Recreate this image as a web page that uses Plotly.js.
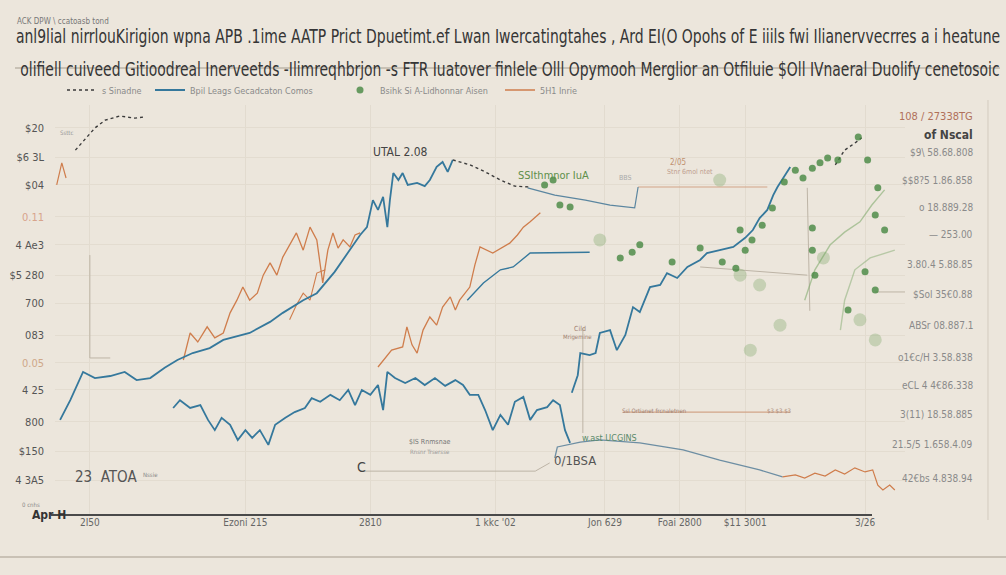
<!DOCTYPE html>
<html>
<head>
<meta charset="utf-8">
<script src="https://cdn.plot.ly/plotly-3.0.1.min.js"></script>
<style>
html,body{margin:0;padding:0;background:#ece6dc;}
#chart{width:1006px;height:575px;}
</style>
</head>
<body>
<div id="chart"></div>
<script>
// ---------- data ----------
const blueMainX = [0.6,1.8,3.3,4.7,6.5,8.2,9.6,11.2,12.9,14.4,16.2,18.2,19.8,22.9,25.3,26.8,29.2,30.8,32.9,34.7,35.9,36.7,37.4,38.0,38.6,39.1,39.4,39.8,40.4,40.9,41.5,42.6,43.5,44.1,44.9,45.6,46.2,46.8];
const blueMainY = [23.2,28.0,34.9,33.4,33.9,34.9,32.9,33.4,35.9,37.8,39.5,40.7,42.7,44.4,47.1,49.3,52.4,54.1,59.3,64.6,68.3,70.2,76.8,74.4,77.6,70.2,76.8,83.4,81.7,83.4,80.5,81.0,80.2,81.7,84.9,86.1,83.7,86.6];

const blueLowX = [13.9,14.7,15.9,17.1,18.0,18.8,19.6,20.6,21.5,22.4,23.2,24.1,25.1,25.9,27.1,28.2,29.4,30.2,31.2,32.4,33.5,34.5,35.3,36.1,37.1,38.0,38.6,39.1,40.0,41.2,42.4,43.5,44.7,45.9,47.1,48.0,48.8,49.8,50.6,51.5,52.4,53.3,54.1,55.1,55.9,56.7,57.9,58.6,59.4,60.0,60.6];
const blueLowY = [26.1,28.0,26.1,26.8,23.2,20.7,23.7,22.0,18.3,20.7,18.8,20.7,17.1,22.0,23.7,25.1,26.1,28.5,27.6,29.3,28.0,30.5,26.8,30.5,29.3,31.7,25.6,34.9,33.4,32.2,33.4,31.7,33.4,31.5,32.9,31.7,29.3,29.3,25.6,20.7,24.4,22.0,27.6,28.8,23.2,25.6,26.3,28.0,26.8,20.7,17.6];

const blueRightX = [60.8,61.5,61.8,62.9,63.6,64.1,65.3,66.1,67.1,68.0,68.8,70.0,71.2,72.0,73.2,74.4,75.9,76.7,78.2,79.8,81.2,82.1,82.9,83.8,84.5,85.0,85.9,86.5];
const blueRightY = [29.8,34.1,39.5,39.0,39.5,44.4,45.1,40.2,43.9,50.7,49.5,55.6,56.1,59.0,57.8,60.5,62.2,63.9,64.6,65.4,67.6,69.5,72.4,74.4,78.0,80.0,82.9,84.9];

const blueSmoothX = [48.5,50.4,52.4,53.9,55.9,62.9];
const blueSmoothY = [52.4,56.6,59.8,60.5,63.9,64.1];

const blueUpperX = [55.6,58.8,62.4,65.3,68.2,68.6];
const blueUpperY = [79.8,78.0,76.8,75.6,74.9,80.0];

const blueTailX = [58.8,59.1,61.8,64.1,68.8,73.9,78.2,82.9,85.6];
const blueTailY = [13.9,16.6,17.8,18.3,17.6,15.9,13.4,11.0,9.3];

const orangeMainX = [15.1,15.9,16.8,17.9,18.8,19.8,20.6,21.4,22.1,22.9,23.8,24.5,25.3,26.1,26.8,27.6,28.4,29.2,30.0,30.8,31.2,31.5,32.1,32.7,33.3,33.9,34.7,35.3,35.9];
const orangeMainY = [37.8,44.4,42.2,45.9,43.2,44.4,49.3,52.4,55.6,52.4,54.1,58.5,61.5,58.5,62.9,65.9,68.8,64.6,70.2,67.1,61.0,56.6,64.6,68.8,65.1,67.1,65.4,68.3,68.8];

const orangeLowX = [27.6,28.4,29.2,30.0,30.8,31.8];
const orangeLowY = [47.6,51.2,54.1,52.4,59.0,59.8];

const orangeSecondX = [38.0,39.6,40.9,41.4,42.0,42.6,43.3,44.1,44.9,45.6,46.5,47.1,47.6,48.8,49.4,50.0,51.5,52.5,53.5,54.4,55.1,55.9,57.1];
const orangeSecondY = [36.1,40.2,41.0,45.9,41.5,39.5,45.1,48.3,46.3,50.7,53.2,50.0,52.4,55.6,61.0,65.4,63.9,65.1,66.3,68.3,70.2,71.5,73.7];

const orangeTopX = [0.2,0.6,0.8,1.3];
const orangeTopY = [80.5,84.1,85.9,82.2];

const orangeTailX = [85.6,87.1,88.2,89.4,90.6,91.8,92.9,94.1,95.3,96.2,96.8,97.4,98.2,98.8];
const orangeTailY = [9.3,9.8,9.0,10.2,9.5,11.0,10.0,11.5,10.5,11.0,7.3,6.1,7.3,6.1];

const dashTopX = [2.4,3.5,4.7,5.9,7.6,9.4,10.6];
const dashTopY = [89.0,91.5,94.4,96.3,97.3,96.8,97.1];
const dashMidX = [46.8,48.8,50.6,52.4,54.1,55.9];
const dashMidY = [86.6,85.4,83.7,81.7,80.2,80.0];
const dashRightX = [91.8,92.9,94.1,94.9];
const dashRightY = [85.4,89.0,90.7,92.0];

const greenDotsX = [57.6,58.6,59.4,60.6,66.5,67.9,68.8,72.6,75.9,78.5,80.1,81.2,82.0,83.2,84.4,85.8,87.1,88.0,89.1,90.0,90.9,92.1,94.5,95.6,96.8,96.5,97.6,95.3,96.5,89.1,89.4,93.3,80.6,89.1];
const greenDotsY = [80.5,81.7,75.6,75.1,62.7,64.1,65.9,61.7,65.1,61.7,60.2,64.6,67.1,70.7,74.9,81.2,84.1,82.2,84.6,85.9,87.1,86.6,92.2,86.6,79.8,73.2,69.5,59.3,54.9,64.6,58.5,50.0,69.5,70.0];
const greenFadeX = [64.1,80.6,82.9,90.4,96.5,94.7,78.2,85.3,81.8];
const greenFadeY = [67.1,58.5,56.1,62.7,42.7,47.6,81.7,46.3,40.2];
const greenCurveAX = [88.2,89.4,91.2,92.9,94.7,96.1,97.6];
const greenCurveAY = [52.4,59.8,65.9,69.0,71.5,75.6,79.3];
const greenCurveBX = [92.4,92.9,94.1,95.9,98.8];
const greenCurveBY = [45.1,52.4,59.8,62.7,64.6];

const refX = [4.1,4.1,6.5,null,62.1,62.1,null,88.5,88.8,null,75.9,88.5,null,96.5,100.4,null,36.2,56.5,58.2];
const refY = [63.4,38.3,38.3,null,45.6,20.0,null,79.8,49.8,null,60.5,58.5,null,54.4,54.4,null,10.7,10.7,12.7];
const orangeRefX = [68.6,83.8,null,66.8,86.5];
const orangeRefY = [80.0,80.0,null,25.1,25.1];

const leftTickVals = [94.4,87.3,80.5,72.7,65.9,58.5,51.7,43.9,37.1,30.5,22.7,15.6,8.5];
const leftTickText = ["$20","$6 3L","$04","<span style='color:#d8a48c'>0.11</span>","4 Ae3","$5 280","700","083","<span style='color:#cfa88a'>0.05</span>","4 25","800","$150","4 3A5"];

const bottomTickVals = [4.1,22.4,37.1,51.8,64.7,73.5,81.2,95.3];
const bottomTickText = ["2I50","Ezoni 215","2810","1 kkc '02","Jon 629","Foai 2800","$11 3001","3/26"];

const rightLabelY = [97.1,92.7,88.3,81.7,75.1,68.3,61.0,53.7,46.3,38.5,31.7,24.4,17.1,9.0,-1.7];
const rightLabelText = ["108 / 27338TG","of Nscal","$9\\ 58.68.808","$$8?5 1.86.858","o 18.889.28","— 253.00","3.80.4 5.88.85","$Sol 35€0.88","ABSr 08.887.1","o1€c/H 3.58.838","eCL 4 4€86.338","3(11) 18.58.885","21.5/5 1.658.4.09","42€bs 4.838.94","SSNo $0.8/8"];

const legendNames = ["s Sinadne","Bpil Leags Gecadcaton Comos","Bsihk Si A-Lidhonnar Aisen","5H1 Inrie"];

const titleLine1 = "anl9lial nirrlouKirigion wpna APB .1ime AATP Prict Dpuetimt.ef Lwan Iwercatingtahes , Ard EI(O Opohs of E iiils fwi Ilianervvecrres a i heatune";
const titleLine2 = "olifiell cuiveed Gitioodreal Inerveetds -Ilimreqhbrjon -s FTR Iuatover finlele Olll Opymooh Merglior an Otfiluie $Oll IVnaeral Duolify cenetosoic";

// ---------- styles ----------
const FONT = "DejaVu Sans Condensed, Liberation Sans, sans-serif";
const BLUE = "#35789c", ORANGE = "#cf7d4c", GREEN = "#4e8f45", DARK = "#3a3a3a";

function line(x, y, color, width, extra) {
  return Object.assign({x: x, y: y, mode: "lines", type: "scatter", showlegend: false, hoverinfo: "skip",
    line: {color: color, width: width}}, extra || {});
}

const traces = [
  line(refX, refY, "#bdb4a6", 1, {connectgaps: false}),
  line(orangeRefX, orangeRefY, "#d2a488", 1.2, {connectgaps: false}),
  line(greenCurveAX, greenCurveAY, "rgba(120,165,100,0.55)", 1.4),
  line(greenCurveBX, greenCurveBY, "rgba(120,165,100,0.45)", 1.4),
  line(blueSmoothX, blueSmoothY, BLUE, 1.4),
  line(blueUpperX, blueUpperY, "#5b86a0", 1.2),
  line(blueTailX, blueTailY, "#6d8ea3", 1.3),
  line(orangeLowX, orangeLowY, ORANGE, 1.1),
  line(orangeTopX, orangeTopY, ORANGE, 1.2),
  line(orangeTailX, orangeTailY, ORANGE, 1.2),
  line(orangeMainX, orangeMainY, ORANGE, 1.3, {showlegend: true, name: legendNames[3], legend: "legend4"}),
  line(orangeSecondX, orangeSecondY, ORANGE, 1.3),
  line(blueLowX, blueLowY, BLUE, 1.8),
  line(blueRightX, blueRightY, BLUE, 1.8),
  line(blueMainX, blueMainY, BLUE, 1.8, {showlegend: true, name: legendNames[1], legend: "legend2"}),
  line(dashTopX, dashTopY, DARK, 1.4, {line: {color: DARK, width: 1.4, dash: "dot"}, showlegend: true, name: legendNames[0], legend: "legend"}),
  line(dashMidX, dashMidY, DARK, 1.4, {line: {color: DARK, width: 1.4, dash: "dot"}}),
  line(dashRightX, dashRightY, DARK, 1.4, {line: {color: DARK, width: 1.4, dash: "dot"}}),
  {x: greenFadeX, y: greenFadeY, mode: "markers", type: "scatter", showlegend: false, hoverinfo: "skip",
   marker: {color: "rgba(110,160,90,0.3)", size: 13, line: {width: 0}}},
  {x: greenDotsX, y: greenDotsY, mode: "markers", type: "scatter", showlegend: true, name: legendNames[2], legend: "legend3", hoverinfo: "skip",
   marker: {color: "rgba(70,135,65,0.8)", size: 7, line: {width: 0}}}
];

// paper helpers: the plot area runs 55..905 px across and 105..515 px down
const px = v => (v - 55) / 850;
const py = v => (515 - v) / 410;

const annotations = [
  {xref: "paper", yref: "paper", x: px(510), y: py(55), text: titleLine2, showarrow: false,
   font: {family: FONT, size: 20, color: "#353535"}},
  {xref: "paper", yref: "paper", x: px(15), y: py(15), xanchor: "left", text: "ACK DPW \\ ccatoasb tond", showarrow: false,
   font: {family: FONT, size: 8, color: "#777"}},
  {xref: "x", yref: "y", x: 40.6, y: 88.5, text: "UTAL 2.08", showarrow: false, font: {family: FONT, size: 12, color: "#444"}},
  {xref: "x", yref: "y", x: 58.6, y: 82.9, text: "SSIthmnor IuA", showarrow: false, font: {family: FONT, size: 11, color: "#5d8f4a"}},
  {xref: "x", yref: "y", x: 67.1, y: 82.2, text: "BBS", showarrow: false, font: {family: FONT, size: 7, color: "#aaa"}},
  {xref: "x", yref: "y", x: 73.3, y: 85.9, text: "2/05", showarrow: false, font: {family: FONT, size: 8, color: "#c09070"}},
  {xref: "x", yref: "y", x: 74.7, y: 83.7, text: "Stnr 6mol ntet", showarrow: false, font: {family: FONT, size: 7, color: "#c0a090"}},
  {xref: "x", yref: "y", x: 2.1, y: 9.3, xanchor: "left", text: "23  ATOA", showarrow: false, font: {family: FONT, size: 15, color: "#555"}},
  {xref: "x", yref: "y", x: 11.2, y: 9.8, text: "Nssie", showarrow: false, font: {family: FONT, size: 6, color: "#888"}},
  {xref: "x", yref: "y", x: 36.1, y: 11.7, text: "C", showarrow: false, font: {family: FONT, size: 14, color: "#444"}},
  {xref: "x", yref: "y", x: 61.2, y: 13.4, text: "0/1BSA", showarrow: false, font: {family: FONT, size: 13, color: "#555"}},
  {xref: "x", yref: "y", x: 41.4, y: 17.8, xanchor: "left", text: "$IS Rnmsnae", showarrow: false, font: {family: FONT, size: 7, color: "#777"}},
  {xref: "x", yref: "y", x: 41.5, y: 15.4, xanchor: "left", text: "Rnsnr Trsersse", showarrow: false, font: {family: FONT, size: 6, color: "#999"}},
  {xref: "x", yref: "y", x: 66.5, y: 25.4, xanchor: "left", text: "Ssl Ortianet frcnaletnen", showarrow: false, font: {family: FONT, size: 6, color: "#a08070"}},
  {xref: "x", yref: "y", x: 83.5, y: 25.4, xanchor: "left", text: "$3 $3 $3", showarrow: false, font: {family: FONT, size: 6, color: "#b09080"}},
  {xref: "x", yref: "y", x: 61.8, y: 45.4, text: "Cild", showarrow: false, font: {family: FONT, size: 7, color: "#a08070"}},
  {xref: "x", yref: "y", x: 61.5, y: 43.4, text: "Mrigemine", showarrow: false, font: {family: FONT, size: 6, color: "#a08070"}},
  {xref: "x", yref: "y", x: 61.8, y: 18.8, xanchor: "left", text: "w.ast UCGINS", showarrow: false, font: {family: FONT, size: 9, color: "#5a8a6a"}},
  {xref: "x", yref: "y", x: 0.3, y: 93.2, xanchor: "left", text: "Ssttc", showarrow: false, font: {family: FONT, size: 6, color: "#999"}},
  {xref: "paper", yref: "paper", x: px(42), y: py(510), xanchor: "right", text: "0 cnhs", showarrow: false, font: {family: FONT, size: 6, color: "#888"}},
  {xref: "paper", yref: "paper", x: px(30), y: py(524), text: "<b>Apr H</b>", showarrow: false, font: {family: FONT, size: 12, color: "#333"}}
];
rightLabelText.forEach((t, i) => {
  let color = "#8a8a8a", size = 10, txt = t;
  if (i === 0) { color = "#b0705a"; size = 11; }
  if (i === 1) { color = "#444"; size = 12; txt = "<b>" + t + "</b>"; }
  if (i === rightLabelText.length - 1) { color = "#7f9bb5"; size = 11; }
  annotations.push({xref: "paper", yref: "y", x: px(975), y: rightLabelY[i], xanchor: "right", text: txt,
    showarrow: false, font: {family: FONT, size: size, color: color}});
});

const shapes = [
  {type: "line", xref: "paper", yref: "paper", x0: px(15), x1: px(1000), y0: py(68), y1: py(68), line: {color: "#bdb5a8", width: 1.5}},
  {type: "line", xref: "paper", yref: "paper", x0: px(0), x1: px(1006), y0: py(557), y1: py(557), line: {color: "#c9c1b5", width: 2}},
  {type: "line", xref: "paper", yref: "paper", x0: px(988), x1: px(988), y0: py(100), y1: py(520), line: {color: "#d3cbbf", width: 1}},
  {type: "line", xref: "paper", yref: "paper", x0: px(51), x1: px(872), y0: 0, y1: 0, line: {color: "#4a4a4a", width: 2}}
];

function legendAt(xpix) {
  return {orientation: "h", x: px(xpix), xanchor: "left", y: py(90), yanchor: "middle", bgcolor: "rgba(0,0,0,0)",
          font: {family: FONT, size: 9, color: "#8a8a8a"}, itemwidth: 30};
}

const layout = {
  width: 1006, height: 575,
  paper_bgcolor: "#ece6dc", plot_bgcolor: "#ece6dc",
  margin: {l: 55, r: 101, t: 105, b: 60},
  font: {family: FONT, color: "#555"},
  title: {text: titleLine1, x: px(508), xref: "paper", xanchor: "center", y: 1 - 36 / 575, yref: "container", yanchor: "middle",
          font: {family: FONT, size: 20, color: "#353535"}},
  xaxis: {range: [0, 100], showline: false, zeroline: false, showgrid: true, gridcolor: "#e2dbcf", gridwidth: 1,
          tickvals: bottomTickVals, ticktext: bottomTickText, ticks: "", ticklabelstandoff: 0,
          tickfont: {family: FONT, size: 10, color: "#666"}},
  yaxis: {range: [0, 100], showline: false, zeroline: false, showgrid: true, gridcolor: "#e3dcd0", gridwidth: 1,
          tickvals: leftTickVals, ticktext: leftTickText, ticks: "", ticklabelstandoff: 10,
          tickfont: {family: FONT, size: 11, color: "#555"}},
  showlegend: true,
  legend: legendAt(62),
  legend2: legendAt(150),
  legend3: legendAt(340),
  legend4: legendAt(500),
  annotations: annotations,
  shapes: shapes
};

// horizontally squeeze a text element about its own centre so it spans `target` px
function squeeze(el, target) {
  if (!el) return;
  const bb = el.getBBox();
  if (!bb.width || bb.width <= target) return;
  const s = target / bb.width;
  const cx = bb.x + bb.width / 2;
  const prev = el.getAttribute("transform") || "";
  el.setAttribute("transform", (prev + " translate(" + (cx * (1 - s)) + ",0) scale(" + s + ",1)").trim());
}

const gd = document.getElementById("chart");
Plotly.newPlot(gd, traces, layout, {displayModeBar: false, staticPlot: true}).then(function () {
  squeeze(gd.querySelector(".gtitle"), 985);
  squeeze(gd.querySelector(".annotation-text"), 980);
});
</script>
</body>
</html>
